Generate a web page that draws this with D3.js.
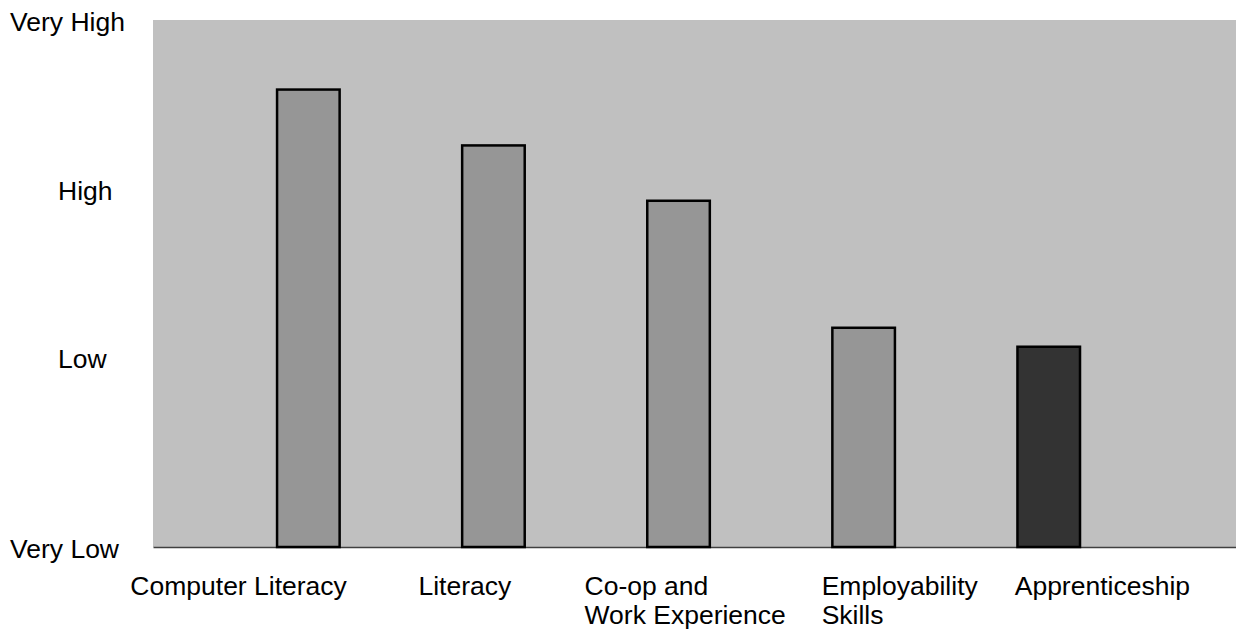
<!DOCTYPE html>
<html>
<head>
<meta charset="utf-8">
<script src="https://cdn.jsdelivr.net/npm/d3@7/dist/d3.min.js"></script>
<style>
  html, body { margin: 0; padding: 0; background: #ffffff; }
  svg { display: block; }
  text { font-family: "Liberation Sans", Arial, sans-serif; fill: #000; }
</style>
</head>
<body>
<svg id="chart" width="1236" height="631"></svg>
<script>
// Programs and their rated importance (0 = very low, 100 = very high)
const categories = [
  "Computer Literacy",
  "Literacy",
  "Co-op and\nWork Experience",
  "Employability\nSkills",
  "Apprenticeship"
];
const ratings = [86.8, 76.2, 65.7, 41.6, 38.0];
const highlighted = [false, false, false, false, true];

// Rating scale levels and their names
const levelValues = [0, 36, 68, 100];
const levelLabels = ["Very Low", "Low", "High", "Very High"];

// ---- layout ----
const W = 1236, H = 631;
const plot = { left: 153, right: 1236, top: 20, bottom: 547 };
const levelLabelX = [10, 58, 58, 10];            // left edge of each level name
const categoryLabelShift = [-178, -75, -94, -42, -34]; // label left edge relative to bar centre
const fontSize = 26.5;

const svg = d3.select("#chart");

const x = d3.scaleBand()
  .domain(categories)
  .range([plot.left, plot.right])
  .paddingInner(0.662)
  .paddingOuter(0.7565)
  .align(0.443);

const y = d3.scaleLinear()
  .domain([0, 100])
  .range([plot.bottom, plot.top]);

// plot background
svg.append("rect")
  .attr("x", plot.left)
  .attr("y", plot.top)
  .attr("width", plot.right - plot.left)
  .attr("height", plot.bottom - plot.top)
  .attr("fill", "#c0c0c0");

// baseline axis
svg.append("g")
  .attr("transform", `translate(0,${y(0)})`)
  .call(d3.axisBottom(x).tickSize(0).tickFormat(""))
  .call(g => g.select(".domain").attr("stroke", "#404040").attr("stroke-width", 1.4))
  .call(g => g.selectAll(".tick").remove());

// bars
svg.append("g")
  .selectAll("rect")
  .data(categories)
  .join("rect")
  .attr("x", d => x(d))
  .attr("width", x.bandwidth())
  .attr("y", (d, i) => y(ratings[i]))
  .attr("height", (d, i) => y(0) - y(ratings[i]))
  .attr("fill", (d, i) => highlighted[i] ? "#333333" : "#969696")
  .attr("stroke", "#000")
  .attr("stroke-width", 2.5);

// level names on the left
svg.append("g")
  .selectAll("text")
  .data(levelValues)
  .join("text")
  .attr("x", (d, i) => levelLabelX[i])
  .attr("y", d => y(d))
  .attr("dy", "0.42em")
  .attr("font-size", fontSize)
  .text((d, i) => levelLabels[i]);

// category names below the axis
const catLabels = svg.append("g")
  .selectAll("text")
  .data(categories)
  .join("text")
  .attr("x", (d, i) => x(d) + x.bandwidth() / 2 + categoryLabelShift[i])
  .attr("y", 595)
  .attr("font-size", fontSize);

catLabels.each(function(d, i) {
  const t = d3.select(this);
  const left = x(d) + x.bandwidth() / 2 + categoryLabelShift[i];
  d.split("\n").forEach((line, k) => {
    t.append("tspan")
      .attr("x", left)
      .attr("dy", k === 0 ? 0 : 29)
      .text(line);
  });
});
</script>
</body>
</html>
